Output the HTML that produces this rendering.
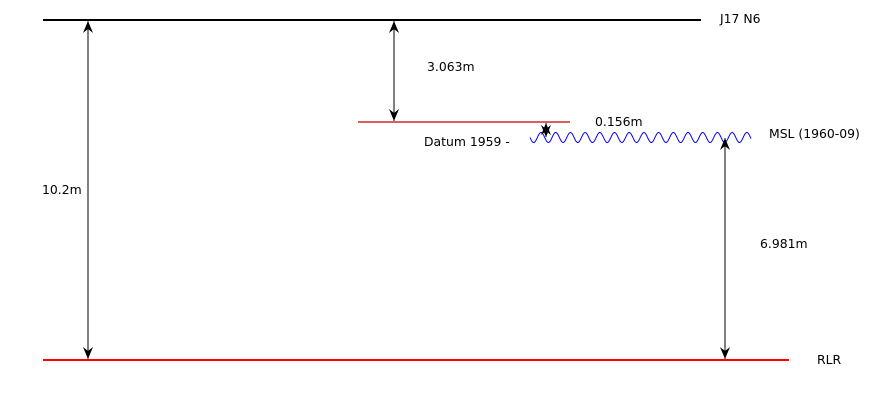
<!DOCTYPE html>
<html><head><meta charset="utf-8"><style>
html,body{margin:0;padding:0;background:#fff;}
svg{display:block;font-family:"DejaVu Sans","Liberation Sans",sans-serif;font-size:12.4px;}
</style></head><body>
<svg id="c" width="875" height="400" viewBox="0 0 875 400">
<defs>
<marker id="ah" viewBox="0 0 12 10" refX="12" refY="5" markerWidth="12" markerHeight="10" markerUnits="userSpaceOnUse" orient="auto-start-reverse">
<path d="M0,0 L12,5 L0,10 L4,5 Z" fill="#000"/>
</marker>
</defs>
<line x1="43" y1="20" x2="701" y2="20" stroke="#000" stroke-width="2"/>
<text x="720" y="23">J17 N6</text>
<line x1="358" y1="122" x2="570" y2="122" stroke="#c00000" stroke-width="1.2"/>
<text x="424" y="146">Datum 1959 -</text>
<path id="wave" fill="none" stroke="#0000ff" stroke-width="1"/>
<text x="769" y="138">MSL (1960-09)</text>
<line x1="43" y1="360" x2="789" y2="360" stroke="#ff0000" stroke-width="2"/>
<text x="817" y="364">RLR</text>
<line x1="88" y1="21" x2="88" y2="359" stroke="#000" stroke-width="1" marker-start="url(#ah)" marker-end="url(#ah)"/>
<text x="42" y="194">10.2m</text>
<line x1="394" y1="21" x2="394" y2="121" stroke="#000" stroke-width="1" marker-start="url(#ah)" marker-end="url(#ah)"/>
<text x="427" y="71">3.063m</text>
<line x1="546" y1="123" x2="546" y2="137" stroke="#000" stroke-width="1" marker-start="url(#ah)" marker-end="url(#ah)"/>
<text x="595" y="126">0.156m</text>
<line x1="725" y1="138" x2="725" y2="359" stroke="#000" stroke-width="1" marker-start="url(#ah)" marker-end="url(#ah)"/>
<text x="760" y="248">6.981m</text>
</svg>
<script>
var d="";
for(var x=530;x<=751;x+=0.5){var y=137.5+5*Math.sin((x-530)/14.7*2*Math.PI);d+=(x==530?"M":"L")+x+","+y.toFixed(2);}
document.getElementById('wave').setAttribute('d',d);
</script>
</body></html>
